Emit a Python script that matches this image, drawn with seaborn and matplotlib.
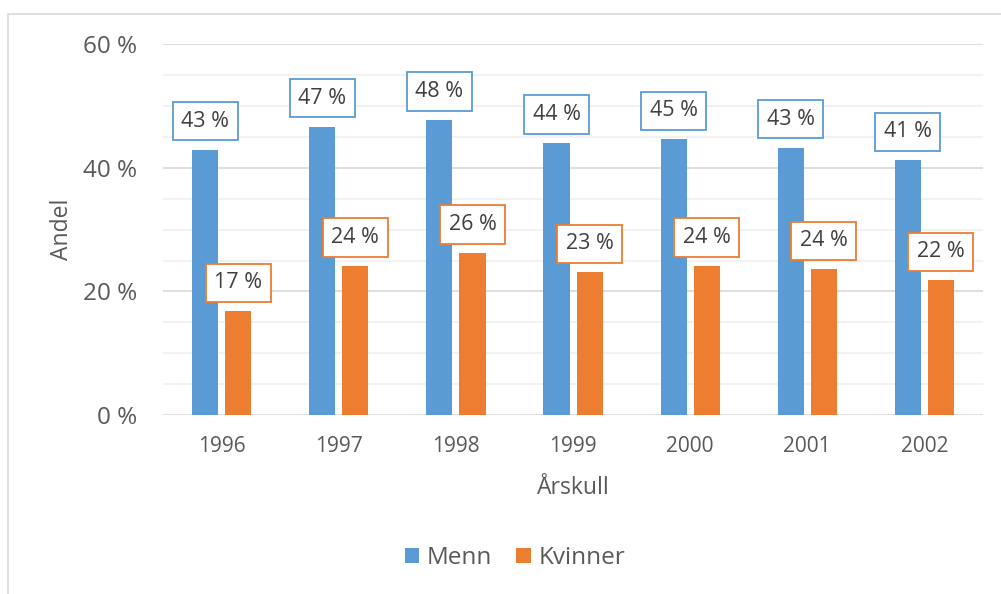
import pandas as pd
import seaborn as sns
import matplotlib.pyplot as plt
from matplotlib.patches import Rectangle
from matplotlib.ticker import MultipleLocator, FuncFormatter

#data
years = ['1996', '1997', '1998', '1999', '2000', '2001', '2002']
menn = [42.9, 46.6, 47.7, 44.0, 44.6, 43.2, 41.2]
kvinner = [16.8, 24.1, 26.2, 23.1, 24.1, 23.6, 21.8]
series = ['Menn', 'Kvinner']
colors = ['#5B9BD5', '#ED7D31']
text_color = '#595959'

df = pd.DataFrame({
    'Årskull': years * 2,
    'Andel': menn + kvinner,
    'Kjønn': ['Menn'] * len(years) + ['Kvinner'] * len(years),
})

sns.set_theme(style='white')
plt.rcParams['font.family'] = ['Open Sans', 'DejaVu Sans']

fig = plt.figure(figsize=(10.01, 5.94), dpi=100)
fig.patches.append(Rectangle((8 / 1001, -0.1), 1.2, (594 - 14) / 594 + 0.1,
                             transform=fig.transFigure, fill=False,
                             ec='#D9D9D9', lw=1.2, zorder=0))
ax = fig.add_axes([0.163, 0.301, 0.819, 0.625])

sns.barplot(data=df, x='Årskull', y='Andel', hue='Kjønn', palette=colors,
            saturation=1, width=0.565, gap=0.21, linewidth=0, ax=ax, legend=True)

#labels with boxes
for cont, col in zip(ax.containers, colors):
    labels = [f'{b.get_height():.0f} %' for b in cont]
    ax.bar_label(cont, labels=labels, padding=13, fontsize=15.5, color='#404040',
                 bbox=dict(boxstyle='square,pad=0.4', fc='white', ec=col, lw=1.3))

ax.set_ylim(0, 60)
ax.yaxis.set_major_locator(MultipleLocator(20))
ax.yaxis.set_minor_locator(MultipleLocator(5))
ax.yaxis.set_major_formatter(FuncFormatter(lambda v, p: f'{v:.0f} %'))
ax.grid(axis='y', which='major', color='#D9D9D9', lw=1.2)
ax.grid(axis='y', which='minor', color='#F0F0F0', lw=1.2)
ax.set_axisbelow(True)
for s in ax.spines.values():
    s.set_visible(False)
ax.tick_params(axis='y', which='both', length=0, pad=19, labelsize=17.5, labelcolor=text_color)
ax.tick_params(axis='x', length=0, pad=15, labelsize=15, labelcolor=text_color)
ax.set_xlim(-0.5, 6.5)

ax.set_ylabel('Andel', fontsize=16.5, color=text_color, labelpad=6)
ax.set_xlabel('Årskull', fontsize=16.5, color=text_color, labelpad=14)

handles, lbls = ax.get_legend_handles_labels()
ax.legend(handles, lbls, loc='center', bbox_to_anchor=(0.429, -0.385), ncol=2,
          frameon=False, fontsize=17.5, handlelength=0.6, handleheight=0.6,
          handletextpad=0.3, columnspacing=1.0, labelcolor=text_color)

plt.savefig('out.png', dpi=100)
